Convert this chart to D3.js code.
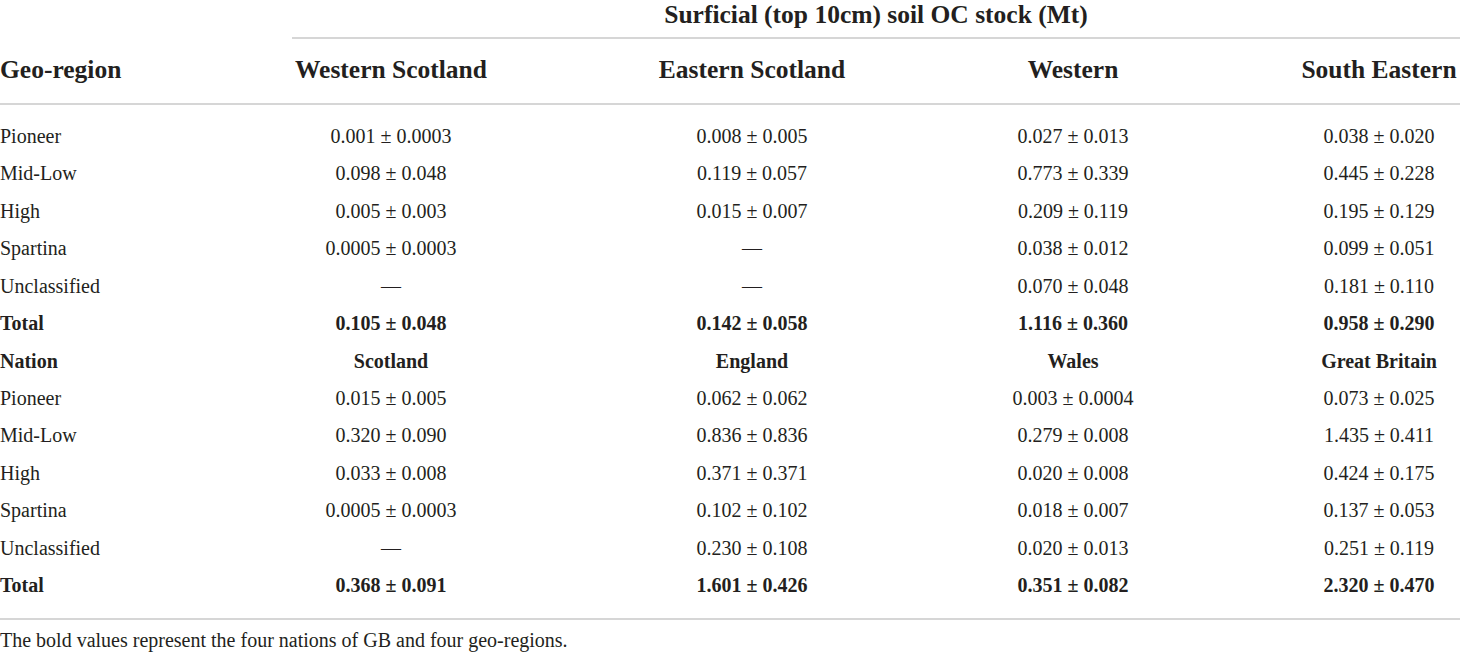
<!DOCTYPE html>
<html>
<head>
<meta charset="utf-8">
<script src="https://cdn.jsdelivr.net/npm/d3@7"></script>
<style>
  html, body { margin: 0; padding: 0; background: #fff; }
  svg { display: block; }
</style>
</head>
<body>
<div class="chart"></div>
<script>
// table content
const spanTitle = "Surficial (top 10cm) soil OC stock (Mt)";
const firstHeader = "Geo-region";
const regionCols = ["Western Scotland", "Eastern Scotland", "Western", "South Eastern"];
const nationLabel = "Nation";
const nationCols = ["Scotland", "England", "Wales", "Great Britain"];
const classes = ["Pioneer", "Mid-Low", "High", "Spartina", "Unclassified", "Total"];

// values per class, one entry per column ("—" = no data)
const regionValues = [
    ["0.001 ± 0.0003", "0.008 ± 0.005", "0.027 ± 0.013", "0.038 ± 0.020"],
    ["0.098 ± 0.048", "0.119 ± 0.057", "0.773 ± 0.339", "0.445 ± 0.228"],
    ["0.005 ± 0.003", "0.015 ± 0.007", "0.209 ± 0.119", "0.195 ± 0.129"],
    ["0.0005 ± 0.0003", "—", "0.038 ± 0.012", "0.099 ± 0.051"],
    ["—", "—", "0.070 ± 0.048", "0.181 ± 0.110"],
    ["0.105 ± 0.048", "0.142 ± 0.058", "1.116 ± 0.360", "0.958 ± 0.290"]
];
const nationValues = [
    ["0.015 ± 0.005", "0.062 ± 0.062", "0.003 ± 0.0004", "0.073 ± 0.025"],
    ["0.320 ± 0.090", "0.836 ± 0.836", "0.279 ± 0.008", "1.435 ± 0.411"],
    ["0.033 ± 0.008", "0.371 ± 0.371", "0.020 ± 0.008", "0.424 ± 0.175"],
    ["0.0005 ± 0.0003", "0.102 ± 0.102", "0.018 ± 0.007", "0.137 ± 0.053"],
    ["—", "0.230 ± 0.108", "0.020 ± 0.013", "0.251 ± 0.119"],
    ["0.368 ± 0.091", "1.601 ± 0.426", "0.351 ± 0.082", "2.320 ± 0.470"]
];
const footnote = "The bold values represent the four nations of GB and four geo-regions.";

const width = 1460;
const height = 653;
const font = "'Liberation Serif', 'Times New Roman', serif";
const ink = "#231f20";
const ruleColor = "#c8c8c8";

// build body rows: region block, nation header row, nation block
const rows = [];
classes.forEach((c, i) => rows.push({label: c, cells: regionValues[i], bold: c === "Total"}));
rows.push({label: nationLabel, cells: nationCols, bold: true});
classes.forEach((c, i) => rows.push({label: c, cells: nationValues[i], bold: c === "Total"}));

const svg = d3.select(".chart")
    .append("svg")
    .attr("width", width)
    .attr("height", height)
    .style("font-family", font);

// column centres (auto table layout) and row baselines
const xScale = d3.scaleOrdinal()
    .domain(d3.range(regionCols.length))
    .range([391, 752, 1073, 1379]);
const yScale = d3.scalePoint()
    .domain(d3.range(rows.length))
    .range([143, 592]);

// rules
const rules = [
    {x1: 292, x2: width, y: 38},
    {x1: 0, x2: width, y: 104},
    {x1: 0, x2: width, y: 619}
];
svg.selectAll("line.rule")
    .data(rules)
    .enter()
    .append("line")
    .attr("class", "rule")
    .attr("x1", d => d.x1)
    .attr("x2", d => d.x2)
    .attr("y1", d => d.y)
    .attr("y2", d => d.y)
    .style("stroke", ruleColor)
    .style("stroke-width", 1.6);

// spanning title
svg.append("text")
    .attr("x", (292 + width) / 2)
    .attr("y", 23)
    .attr("text-anchor", "middle")
    .style("font-size", "25.5px")
    .style("font-weight", "bold")
    .style("fill", ink)
    .text(spanTitle);

// header row
svg.append("text")
    .attr("x", 0)
    .attr("y", 78)
    .style("font-size", "25.5px")
    .style("font-weight", "bold")
    .style("fill", ink)
    .text(firstHeader);

svg.selectAll("text.colhead")
    .data(regionCols)
    .enter()
    .append("text")
    .attr("class", "colhead")
    .attr("x", (d, i) => xScale(i))
    .attr("y", 78)
    .attr("text-anchor", "middle")
    .style("font-size", "25.5px")
    .style("font-weight", "bold")
    .style("fill", ink)
    .text(d => d);

// body rows
const rowG = svg.selectAll("g.row")
    .data(rows)
    .enter()
    .append("g")
    .attr("class", "row")
    .attr("transform", (d, i) => "translate(0," + yScale(i) + ")")
    .style("font-size", "20px")
    .style("fill", ink)
    .style("font-weight", d => d.bold ? "bold" : "normal");

rowG.append("text")
    .attr("x", 0)
    .text(d => d.label);

rowG.selectAll("text.cell")
    .data(d => d.cells)
    .enter()
    .append("text")
    .attr("class", "cell")
    .attr("x", (d, i) => xScale(i))
    .attr("text-anchor", "middle")
    .text(d => d);

// footnote
svg.append("text")
    .attr("x", 0)
    .attr("y", 647)
    .style("font-size", "20px")
    .style("fill", ink)
    .text(footnote);
</script>
</body>
</html>
